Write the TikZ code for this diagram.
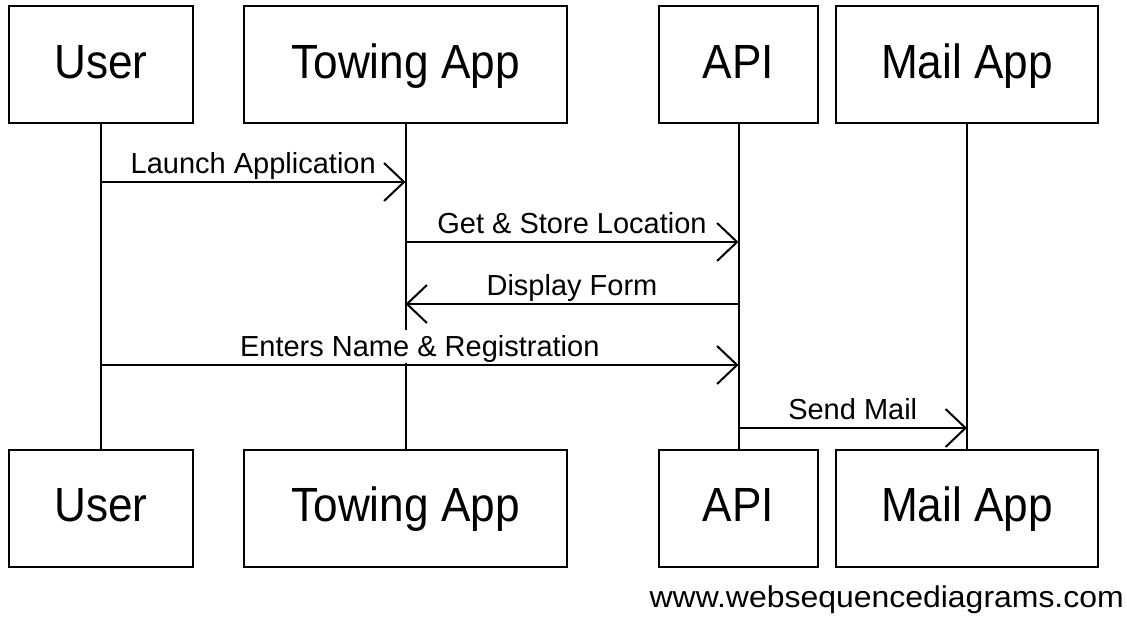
\documentclass[tikz,border=0pt]{standalone}
\usepackage{fontspec}
\setmainfont{Liberation Sans}
\usetikzlibrary{arrows.meta}
\begin{document}
\begin{tikzpicture}[x=1pt,y=-1pt,
  actor/.style={draw, line width=2pt, rectangle, minimum height=117pt, inner sep=0pt,
     font=\fontsize{48}{52}\selectfont, text height=34.4pt, text depth=7.4pt},
  life/.style={line width=2pt},
  msg/.style={line width=2pt, -{Straight Barb[length=20pt,width=38pt]}},
  lbl/.style={font=\fontsize{29}{32}\selectfont, anchor=base, inner sep=0pt, fill=white,
     text height=26pt, text depth=7pt, yshift=9pt}]
\useasboundingbox (0,0) rectangle (1127,616);
\fill[white] (0,0) rectangle (1127,616);
% top actors
\node[actor, minimum width=184pt] (u) at (101,64.5) {\scalebox{0.92}[1]{User}};
\node[actor, minimum width=323pt] (t) at (405.5,64.5) {\scalebox{0.92}[1]{Towing App}};
\node[actor, minimum width=159pt] (a) at (738.5,64.5) {\scalebox{0.92}[1]{API}};
\node[actor, minimum width=262pt] (m) at (967,64.5) {\scalebox{0.92}[1]{Mail App}};
% bottom actors
\node[actor, minimum width=184pt] (ub) at (101,508) {\scalebox{0.92}[1]{User}};
\node[actor, minimum width=323pt] (tb) at (405.5,508) {\scalebox{0.92}[1]{Towing App}};
\node[actor, minimum width=159pt] (ab) at (738.5,508) {\scalebox{0.92}[1]{API}};
\node[actor, minimum width=262pt] (mb) at (967,508) {\scalebox{0.92}[1]{Mail App}};
% lifelines
\draw[life] (u.south) -- (ub.north);
\draw[life] (t.south) -- (tb.north);
\draw[life] (a.south) -- (ab.north);
\draw[life] (m.south) -- (mb.north);
% message rows
\coordinate (r1) at (0,182);
\coordinate (r2) at (0,242);
\coordinate (r3) at (0,304);
\coordinate (r4) at (0,365);
\coordinate (r5) at (0,428);
\draw[msg] (u |- r1) -- node[lbl, midway] {Launch Application} (t |- r1);
\draw[msg] (t |- r2) -- node[lbl, midway] {Get \& Store Location} (a |- r2);
\draw[msg] (a |- r3) -- node[lbl, midway] {Display Form} (t |- r3);
\draw[msg] (u |- r4) -- node[lbl, midway] {Enters Name \& Registration} (a |- r4);
\draw[msg] (a |- r5) -- node[lbl, midway] {Send Mail} (m |- r5);
% watermark
\node[anchor=base east, inner sep=0pt, font=\fontsize{30}{32}\selectfont] (wm) at (1124,607)
  {\scalebox{1.065}[1]{www.websequencediagrams.com}};
\end{tikzpicture}
\end{document}
